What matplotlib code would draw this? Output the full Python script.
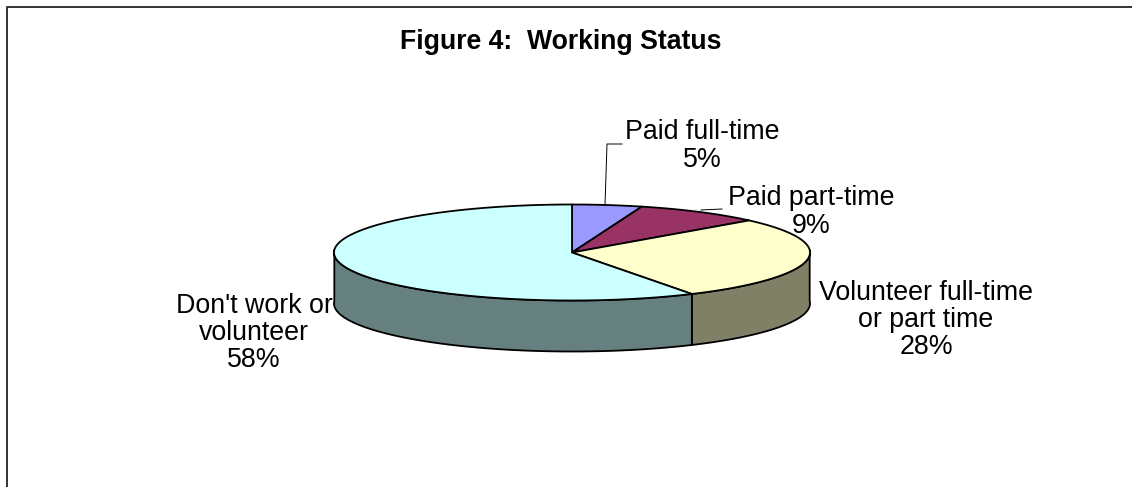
import matplotlib
matplotlib.use('Agg')
import matplotlib.pyplot as plt
import numpy as np

plt.rcParams['font.family'] = ['Liberation Sans', 'DejaVu Sans']

title = 'Figure 4:  Working Status'
categories = ['Paid full-time', 'Paid part-time', 'Volunteer full-time\nor part time',
              "Don't work or\nvolunteer"]
values = [5, 9, 28, 58]
top_colors = ['#9999FF', '#993366', '#FFFFCC', '#CCFFFF']
side_colors = ['#4D4D80', '#4D1A33', '#808066', '#668080']
label_pos = [(702, 146), (811, 212), (926, 320), (254, 333)]

cx, cy = 572, 252.5
rx, ry = 238, 48
depth = 51


def slice_angle(t):
    # small squeeze so the slices look like the tilted pie in the picture
    return t - np.radians(3) * np.sin(t)


def rim(a, b):
    t = slice_angle(np.linspace(a, b, 200))
    return cx + rx * np.sin(t), cy - ry * np.cos(t)


fig = plt.figure(figsize=(11.32, 4.87), dpi=100)
ax = fig.add_axes([0, 0, 1, 1])
ax.set_xlim(0, 1132)
ax.set_ylim(487, 0)
ax.axis('off')

# frame: only top and left reach the picture
ax.plot([7, 7, 1132], [487, 6.5, 6.5], color='#333333', lw=1.4)

edges = 2 * np.pi * np.cumsum([0] + values) / sum(values)

# side walls first, only the front half of the ellipse shows
for i in range(len(values)):
    a = max(edges[i], np.pi / 2)
    b = min(edges[i + 1], 3 * np.pi / 2)
    if b <= a:
        continue
    x, y = rim(a, b)
    ax.fill(np.r_[x, x[::-1]], np.r_[y, y[::-1] + depth],
            facecolor=side_colors[i], edgecolor='black', lw=1.3, joinstyle='round')

# top faces
for i in range(len(values)):
    x, y = rim(edges[i], edges[i + 1])
    ax.fill(np.r_[cx, x], np.r_[cy, y],
            facecolor=top_colors[i], edgecolor='black', lw=1.3, joinstyle='round')

# leader lines
ax.plot([605, 607, 622], [205, 144, 144], color='black', lw=0.7)
ax.plot([701, 722], [210, 209], color='black', lw=0.7)

for name, v, (lx, ly) in zip(categories, values, label_pos):
    ax.text(lx, ly, f'{name}\n{v}%', ha='center', va='center',
            fontsize=19.3, color='black', linespacing=1.07)

ax.text(561, 42, title, ha='center', va='center', fontsize=19.2, fontweight='bold')

fig.savefig('out.png', dpi=100)
